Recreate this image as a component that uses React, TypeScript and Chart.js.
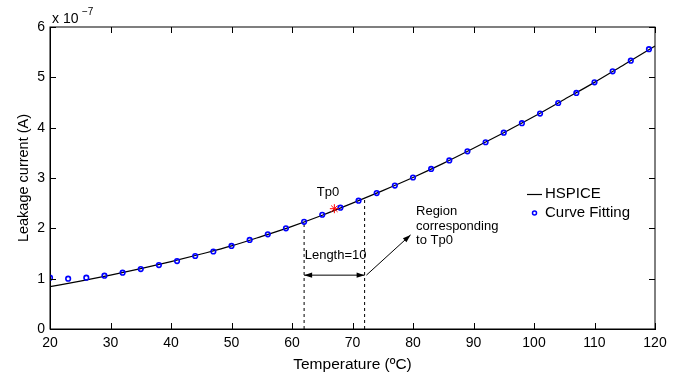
import { useEffect, useRef } from "react";
import { Chart, registerables } from "chart.js";

Chart.register(...registerables);

// Curve-fitting samples (every 3 °C)
const fitTemps = [20, 23, 26, 29, 32, 35, 38, 41, 44, 47, 50, 53, 56, 59, 62, 65, 68, 71, 74, 77, 80, 83, 86, 89, 92, 95, 98, 101, 104, 107, 110, 113, 116, 119];
const fitValues = [1.02, 1.0, 1.02, 1.06, 1.12, 1.19, 1.27, 1.35, 1.45, 1.54, 1.65, 1.77, 1.88, 2.0, 2.13, 2.27, 2.41, 2.55, 2.7, 2.85, 3.01, 3.18, 3.35, 3.53, 3.71, 3.9, 4.09, 4.28, 4.49, 4.69, 4.9, 5.12, 5.33, 5.56];

// HSPICE curve
const spiceTemps = [20, 25, 30, 35, 40, 45, 50, 55, 60, 65, 70, 75, 80, 85, 90, 95, 100, 105, 110, 115, 120];
const spiceValues = [0.84, 0.95, 1.07, 1.2, 1.34, 1.49, 1.65, 1.84, 2.04, 2.26, 2.5, 2.75, 3.01, 3.29, 3.59, 3.9, 4.22, 4.56, 4.9, 5.26, 5.62];

const xTicks = [20, 30, 40, 50, 60, 70, 80, 90, 100, 110, 120];
const yTicks = [0, 1, 2, 3, 4, 5, 6];

const tp0X = [67];
const tp0Y = [2.39];
const regionX = [62, 72];
const regionTopY = [2.12, 2.6];
const lengthArrowY = 1.07;
const pointerX = [72.3, 79.6];
const pointerY = [1.07, 1.87];

const FONT = "'Liberation Sans', Arial, Helvetica, sans-serif";

function arrowHead(ctx: CanvasRenderingContext2D, x0: number, y0: number, x1: number, y1: number) {
  const ang = Math.atan2(y1 - y0, x1 - x0);
  const len = 8;
  const w = 2.6;
  ctx.save();
  ctx.translate(x1, y1);
  ctx.rotate(ang);
  ctx.beginPath();
  ctx.moveTo(0, 0);
  ctx.lineTo(-len, -w);
  ctx.lineTo(-len, w);
  ctx.closePath();
  ctx.fillStyle = "#000";
  ctx.fill();
  ctx.restore();
}

const decorPlugin = {
  id: "decor",
  afterDraw(chart: any) {
    const ctx: CanvasRenderingContext2D = chart.ctx;
    const xs = chart.scales.x;
    const ys = chart.scales.y;
    const { left, right, top, bottom } = chart.chartArea;
    ctx.save();
    // frame
    ctx.strokeStyle = "#000";
    ctx.lineWidth = 1;
    ctx.strokeRect(left, top, right - left, bottom - top);
    // inward ticks
    const tl = 6;
    ctx.beginPath();
    xTicks.forEach((t) => {
      const px = Math.round(xs.getPixelForValue(t)) + 0.5;
      ctx.moveTo(px, bottom);
      ctx.lineTo(px, bottom - tl);
      ctx.moveTo(px, top);
      ctx.lineTo(px, top + tl);
    });
    yTicks.forEach((t) => {
      const py = Math.round(ys.getPixelForValue(t)) + 0.5;
      ctx.moveTo(left, py);
      ctx.lineTo(left + tl, py);
      ctx.moveTo(right, py);
      ctx.lineTo(right - tl, py);
    });
    ctx.stroke();

    // arrowheads
    const ay = ys.getPixelForValue(lengthArrowY);
    const a0 = xs.getPixelForValue(regionX[0]);
    const a1 = xs.getPixelForValue(regionX[1]);
    arrowHead(ctx, a1, ay, a0, ay);
    arrowHead(ctx, a0, ay, a1, ay);
    arrowHead(
      ctx,
      xs.getPixelForValue(pointerX[0]),
      ys.getPixelForValue(pointerY[0]),
      xs.getPixelForValue(pointerX[1]),
      ys.getPixelForValue(pointerY[1])
    );

    // text annotations
    ctx.fillStyle = "#000";
    ctx.textBaseline = "middle";
    ctx.textAlign = "left";
    ctx.font = `13px ${FONT}`;
    ctx.fillText("Tp0", xs.getPixelForValue(64.1), ys.getPixelForValue(2.72));
    ctx.fillText("Length=10", xs.getPixelForValue(62.1), ys.getPixelForValue(1.47));
    const rx = xs.getPixelForValue(80.5);
    ctx.fillText("Region", rx, ys.getPixelForValue(2.33));
    ctx.fillText("corresponding", rx, ys.getPixelForValue(2.03));
    ctx.fillText("to Tp0", rx, ys.getPixelForValue(1.75));

    // legend
    ctx.font = `15px ${FONT}`;
    ctx.beginPath();
    ctx.moveTo(527, 194.5);
    ctx.lineTo(542, 194.5);
    ctx.strokeStyle = "#000";
    ctx.lineWidth = 1.2;
    ctx.stroke();
    ctx.fillText("HSPICE", 545, 194);
    ctx.beginPath();
    ctx.arc(534.5, 213, 2, 0, Math.PI * 2);
    ctx.strokeStyle = "#0000ff";
    ctx.lineWidth = 1.5;
    ctx.stroke();
    ctx.fillText("Curve Fitting", 545, 213);

    // axis titles
    ctx.textAlign = "center";
    ctx.font = `15.5px ${FONT}`;
    ctx.fillText("Temperature (ºC)", (left + right) / 2, 365);
    ctx.save();
    ctx.translate(24, (top + bottom) / 2);
    ctx.rotate(-Math.PI / 2);
    ctx.font = `14.5px ${FONT}`;
    ctx.fillText("Leakage current (A)", 0, 0);
    ctx.restore();

    // exponent
    ctx.textAlign = "left";
    ctx.font = `14px ${FONT}`;
    ctx.fillText("x 10", 52, 19);
    ctx.font = `10px ${FONT}`;
    ctx.fillText("−7", 82, 12);
    ctx.restore();
  },
};

export default function App() {
  const ref = useRef<HTMLCanvasElement | null>(null);
  useEffect(() => {
    if (!ref.current) return;
    Chart.defaults.font.family = FONT;
    const chart = new Chart(ref.current, {
      type: "scatter",
      data: {
        datasets: [
          {
            label: "Tp0",
            data: tp0X.map((x, i) => ({ x, y: tp0Y[i] })),
            pointStyle: "star",
            pointRadius: 4.5,
            borderColor: "#ff0000",
            backgroundColor: "#ff0000",
            pointBorderWidth: 1,
            showLine: false,
            order: 0,
          },
          {
            label: "Curve Fitting",
            data: fitTemps.map((x, i) => ({ x, y: fitValues[i] })),
            pointStyle: "circle",
            pointRadius: 2.3,
            borderColor: "#0000ff",
            backgroundColor: "rgba(255,255,255,0)",
            pointBorderWidth: 1.6,
            showLine: false,
            order: 1,
          },
          {
            label: "HSPICE",
            data: spiceTemps.map((x, i) => ({ x, y: spiceValues[i] })),
            showLine: true,
            borderColor: "#000",
            borderWidth: 1.2,
            pointRadius: 0,
            cubicInterpolationMode: "monotone",
            order: 2,
          },
          {
            label: "regionStart",
            data: [{ x: regionX[0], y: 0 }, { x: regionX[0], y: regionTopY[0] }],
            showLine: true,
            borderColor: "#000",
            borderWidth: 1,
            borderDash: [3, 3],
            pointRadius: 0,
            order: 3,
          },
          {
            label: "regionEnd",
            data: [{ x: regionX[1], y: 0 }, { x: regionX[1], y: regionTopY[1] }],
            showLine: true,
            borderColor: "#000",
            borderWidth: 1,
            borderDash: [3, 3],
            pointRadius: 0,
            order: 3,
          },
          {
            label: "lengthArrow",
            data: [{ x: regionX[0], y: lengthArrowY }, { x: regionX[1], y: lengthArrowY }],
            showLine: true,
            borderColor: "#000",
            borderWidth: 1,
            pointRadius: 0,
            order: 3,
          },
          {
            label: "pointer",
            data: pointerX.map((x, i) => ({ x, y: pointerY[i] })),
            showLine: true,
            borderColor: "#000",
            borderWidth: 1,
            pointRadius: 0,
            order: 3,
          },
        ],
      },
      options: {
        animation: false,
        responsive: false,
        layout: { padding: { top: 27, right: 30, left: 0, bottom: 0 } },
        plugins: { legend: { display: false }, tooltip: { enabled: false } },
        scales: {
          x: {
            type: "linear",
            min: 20,
            max: 120,
            afterFit: (s: any) => {
              s.height = 51;
            },
            afterBuildTicks: (s: any) => {
              s.ticks = xTicks.map((v) => ({ value: v }));
            },
            grid: { display: false, drawTicks: false },
            border: { display: true, color: "#000", width: 1 },
            ticks: { color: "#000", font: { size: 14 }, padding: 6, maxRotation: 0 },
          },
          y: {
            type: "linear",
            min: 0,
            max: 6,
            afterFit: (s: any) => {
              s.width = 50;
            },
            afterBuildTicks: (s: any) => {
              s.ticks = yTicks.map((v) => ({ value: v }));
            },
            grid: { display: false, drawTicks: false },
            border: { display: true, color: "#000", width: 1 },
            ticks: { color: "#000", font: { size: 14 }, padding: 5 },
          },
        },
      },
      plugins: [decorPlugin],
    } as any);
    return () => chart.destroy();
  }, []);
  return (
    <div style={{ position: "fixed", left: 0, top: 0, width: 685, height: 380, background: "#fff" }}>
      <canvas ref={ref} width={685} height={380} style={{ display: "block" }} />
    </div>
  );
}
